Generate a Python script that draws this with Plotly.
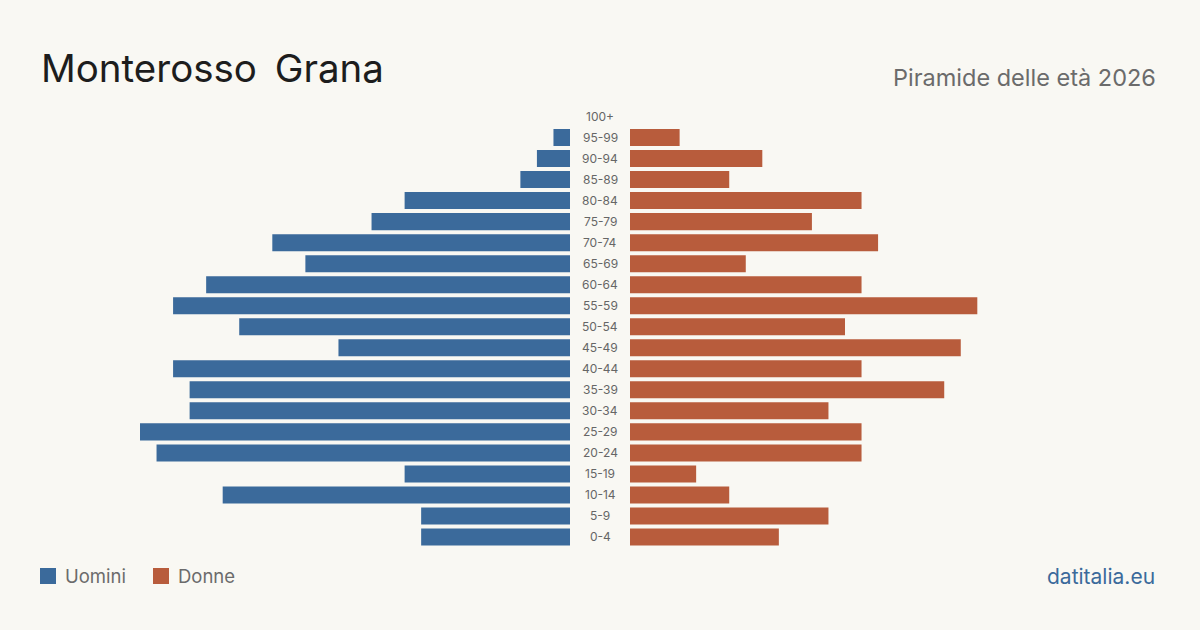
import plotly.graph_objects as go

W, H = 1200, 630

age_groups = ["0-4", "5-9", "10-14", "15-19", "20-24", "25-29", "30-34", "35-39",
              "40-44", "45-49", "50-54", "55-59", "60-64", "65-69", "70-74",
              "75-79", "80-84", "85-89", "90-94", "95-99", "100+"]
men = [9, 9, 21, 10, 25, 26, 23, 23, 24, 14, 20, 24, 22, 16, 18, 12, 10, 3, 2, 1, 0]
women = [9, 12, 6, 4, 14, 14, 12, 19, 14, 20, 13, 21, 14, 7, 15, 11, 14, 6, 8, 3, 0]
x_max = 26

BG = "#f9f8f3"
BLUE = "#3b6a9b"
RED = "#b85c3c"
FONT = "Inter"


def px(x):
    return x / W


def py(y):
    return 1 - y / H


fig = go.Figure()
fig.add_trace(go.Bar(y=age_groups, x=men, orientation="h", name="Uomini",
                     marker=dict(color=BLUE, line=dict(width=0)),
                     xaxis="x", yaxis="y", showlegend=False))
fig.add_trace(go.Bar(y=age_groups, x=women, orientation="h", name="Donne",
                     marker=dict(color=RED, line=dict(width=0)),
                     xaxis="x2", yaxis="y", showlegend=False))

annotations = []
for g in age_groups:
    annotations.append(dict(x=0.5, xref="paper", y=g, yref="y", text=g,
                            showarrow=False, xanchor="center", yanchor="middle",
                            font=dict(family=FONT, size=12, color="#666666")))

annotations += [
    dict(x=px(39), y=py(68), xref="paper", yref="paper", text="Monterosso &#8201;Grana",
         showarrow=False, xanchor="left", yanchor="middle",
         font=dict(family=FONT, size=38.5, color="#1d1d1d")),
    dict(x=px(1158), y=py(77), xref="paper", yref="paper", text="Piramide delle età 2026",
         showarrow=False, xanchor="right", yanchor="middle",
         font=dict(family=FONT, size=23.5, color="#6b6b6b")),
    dict(x=px(63), y=py(576), xref="paper", yref="paper", text="Uomini",
         showarrow=False, xanchor="left", yanchor="middle",
         font=dict(family=FONT, size=18.5, color="#6b6b6b")),
    dict(x=px(176), y=py(576), xref="paper", yref="paper", text="Donne",
         showarrow=False, xanchor="left", yanchor="middle",
         font=dict(family=FONT, size=18.5, color="#6b6b6b")),
    dict(x=px(1157), y=py(576), xref="paper", yref="paper", text="datitalia.eu",
         showarrow=False, xanchor="right", yanchor="middle",
         font=dict(family=FONT, size=21, color=BLUE)),
]

shapes = [
    dict(type="rect", xref="paper", yref="paper", x0=px(40), x1=px(56),
         y0=py(584), y1=py(568), fillcolor=BLUE, line=dict(width=0)),
    dict(type="rect", xref="paper", yref="paper", x0=px(153), x1=px(169),
         y0=py(584), y1=py(568), fillcolor=RED, line=dict(width=0)),
]

fig.update_layout(
    width=W, height=H,
    margin=dict(l=0, r=0, t=0, b=0),
    paper_bgcolor=BG, plot_bgcolor=BG,
    bargap=0.19,
    xaxis=dict(domain=[px(140), px(570)], range=[x_max, 0], showgrid=False,
               zeroline=False, showticklabels=False, fixedrange=True),
    xaxis2=dict(domain=[px(630), px(1060)], range=[0, x_max], showgrid=False,
                zeroline=False, showticklabels=False, anchor="y", fixedrange=True),
    yaxis=dict(domain=[py(547.5), py(106)], type="category",
               categoryorder="array", categoryarray=age_groups,
               showgrid=False, zeroline=False, showticklabels=False, fixedrange=True),
    annotations=annotations,
    shapes=shapes,
    font=dict(family=FONT),
)

fig.write_html("out.html")
